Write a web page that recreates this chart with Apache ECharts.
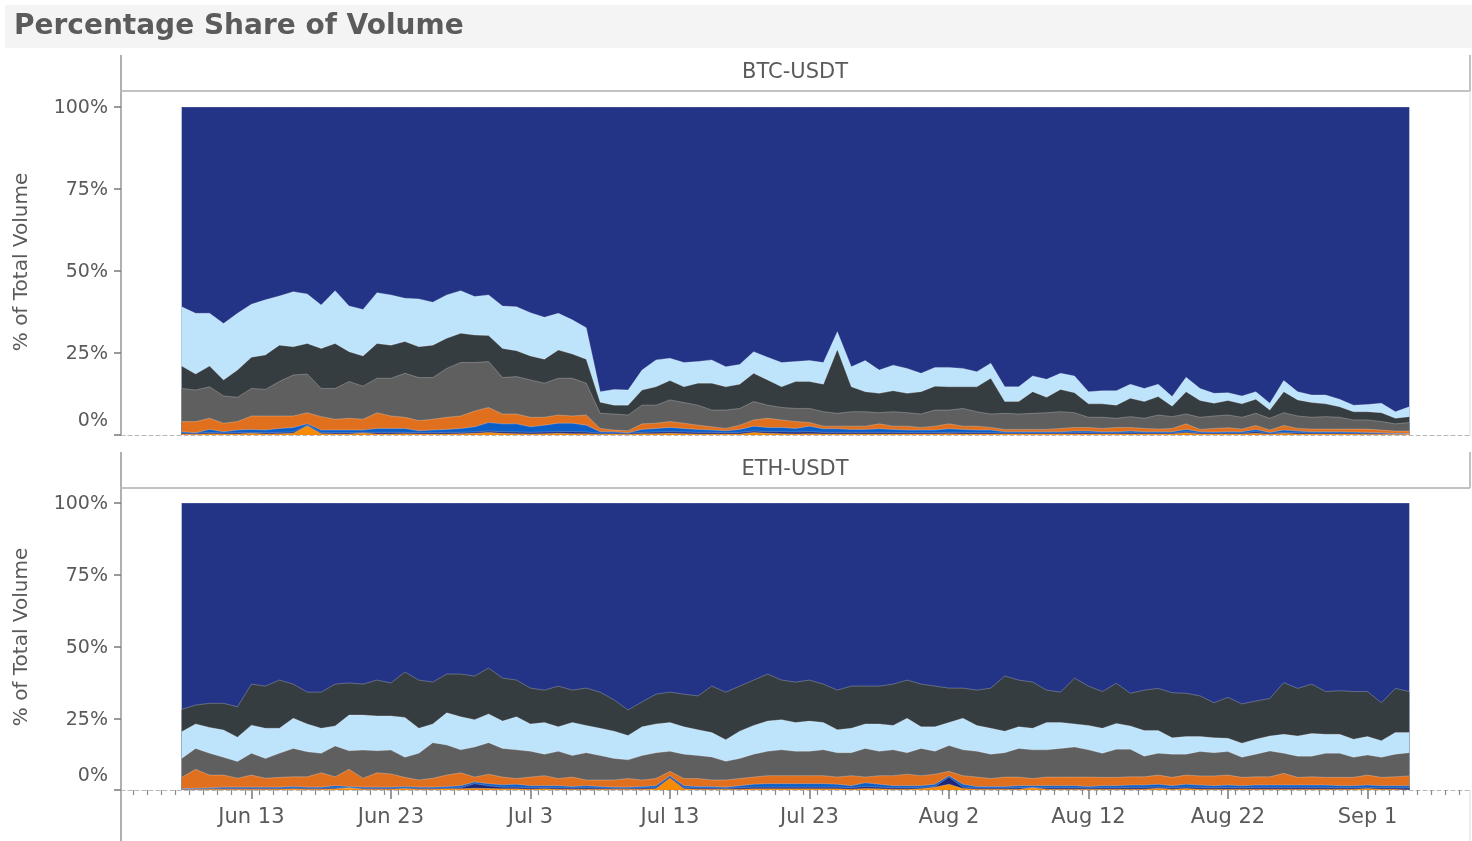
<!DOCTYPE html>
<html>
<head>
<meta charset="utf-8">
<script src="https://cdn.jsdelivr.net/npm/echarts@6/dist/echarts.min.js"></script>
<style>
html,body{margin:0;padding:0;background:#fff;}
#chart{width:1472px;height:841px;}
</style>
</head>
<body>
<div id="chart"></div>
<script>
// x positions: day offsets from Jun 8 (0) to Sep 4 (88)
const days = Array.from({length: 89}, (_, i) => i);
const tickDays = [5, 15, 25, 35, 45, 55, 65, 75, 85];
const tickLabels = ['Jun 13', 'Jun 23', 'Jul 3', 'Jul 13', 'Jul 23', 'Aug 2', 'Aug 12', 'Aug 22', 'Sep 1'];
const panelTitles = ['BTC-USDT', 'ETH-USDT'];

// cumulative share (%) at the top of each layer
const btcTotal = Array(89).fill(100);
const btcLightBlueTop = [39.1,37.1,37.1,34.0,37.1,39.9,41.2,42.4,43.7,43.0,
 39.6,44.0,39.3,38.3,43.4,42.7,41.7,41.5,40.5,42.7,
 44.0,42.2,42.7,39.3,39.1,37.3,35.9,37.1,35.1,32.7,
 13.2,13.9,13.7,19.8,22.9,23.4,22.1,22.4,22.9,20.8,
 21.5,25.4,23.7,22.1,22.4,22.7,22.1,31.5,20.8,22.7,
 19.8,21.3,20.3,18.8,20.6,20.6,20.3,19.3,21.9,14.7,
 14.7,18.0,17.0,18.8,18.0,13.2,13.5,13.5,15.5,14.2,
 15.5,11.7,17.6,14.2,12.7,12.9,11.9,13.2,9.7,16.6,
 13.2,12.2,12.2,10.9,9.1,9.3,9.7,7.1,8.6];
const btcCharcoalTop = [21.0,18.6,21.0,16.8,19.8,23.7,24.4,27.4,26.9,27.9,
 26.4,27.9,25.4,24.1,27.9,27.4,28.5,26.9,27.4,29.5,
 31.0,30.5,30.3,26.4,25.7,24.1,23.1,25.9,24.7,23.1,
 10.0,9.1,9.1,13.7,14.7,16.6,14.7,15.8,15.8,14.7,
 15.5,18.8,16.8,14.7,16.3,16.3,15.5,26.1,14.7,13.2,
 12.7,13.5,12.7,13.2,14.9,14.7,14.7,14.7,17.3,10.2,
 10.2,13.2,11.5,13.9,12.9,9.5,9.5,9.1,11.2,10.2,
 11.7,8.8,13.2,10.5,9.7,10.5,9.5,10.9,7.6,13.2,
 10.7,9.9,9.5,8.6,7.1,7.1,6.8,5.1,5.6];
const btcGrayTop = [14.2,13.7,14.7,11.9,11.5,14.2,13.9,16.3,18.3,18.6,
 14.2,14.2,16.3,14.9,17.3,17.3,18.8,17.5,17.5,20.3,
 22.1,22.1,22.4,17.5,17.8,16.8,15.8,17.3,17.3,15.8,
 6.6,6.4,6.1,9.1,9.1,10.7,9.9,9.1,7.6,7.6,
 8.1,10.2,9.1,8.4,8.1,8.1,7.1,6.6,7.1,7.1,
 6.8,7.1,6.8,6.4,7.6,7.6,8.1,7.1,6.4,6.6,
 6.4,6.6,6.8,7.1,6.8,5.4,5.4,5.1,5.6,5.1,
 6.1,5.6,6.4,5.4,5.8,6.1,5.4,6.6,5.1,6.8,
 5.8,5.4,5.6,5.4,4.6,4.6,4.1,3.4,3.8];
const btcOrangeTop = [4.1,4.1,5.1,3.6,4.1,5.8,5.8,5.8,5.8,6.8,
 5.6,4.8,5.1,4.8,6.8,5.8,5.4,4.4,4.8,5.4,
 5.8,7.3,8.4,6.4,6.4,5.4,5.4,6.1,5.8,6.1,
 2.0,1.5,1.3,3.4,3.6,4.1,3.6,3.0,2.5,2.0,
 3.0,4.6,5.1,4.6,4.1,3.8,2.7,2.7,2.7,2.7,
 3.4,2.7,2.7,2.3,2.7,3.4,2.7,2.7,2.3,1.7,
 1.7,1.7,1.7,2.0,2.3,2.3,2.0,2.3,2.3,2.0,
 1.8,2.0,3.4,1.7,2.0,2.2,1.8,2.9,1.5,2.9,
 2.0,1.8,1.8,1.8,1.8,1.8,1.5,1.2,1.2];
const btcBlueTop = [1.0,0.7,1.7,1.0,1.5,1.7,1.5,2.0,2.3,3.4,
 1.5,1.5,1.5,1.5,2.0,2.0,2.0,1.3,1.5,1.7,
 2.0,2.5,3.8,3.4,3.4,2.5,3.0,3.6,3.6,3.0,
 1.0,1.0,0.7,1.7,2.0,2.3,2.0,1.7,1.5,1.3,
 1.7,2.7,2.3,2.3,2.0,2.7,1.9,1.9,1.7,1.7,
 1.9,1.7,1.5,1.5,1.5,1.9,1.7,1.5,1.5,1.0,
 1.0,1.0,1.0,1.0,1.2,1.2,1.0,1.0,1.2,1.0,
 1.0,1.0,1.7,1.0,0.9,1.0,1.0,1.7,0.8,1.5,
 1.2,1.0,1.0,1.0,0.9,0.8,0.7,0.5,0.5];
const btcDarkNavyTop = [0.6,0.5,0.8,0.6,0.7,0.8,0.7,0.8,0.9,3.0,
 0.7,0.7,0.7,0.8,0.8,0.8,0.8,0.7,0.7,0.8,
 0.8,0.9,1.2,1.0,0.9,0.8,0.9,1.0,1.0,0.9,
 0.5,0.6,0.5,0.8,0.9,1.0,0.9,0.8,0.8,0.7,
 0.8,1.2,1.0,1.0,0.9,1.0,0.8,0.8,0.8,0.8,
 0.8,0.8,0.7,0.7,0.7,0.8,0.8,0.7,0.7,0.6,
 0.6,0.6,0.6,0.6,0.7,0.7,0.6,0.6,0.7,0.6,
 0.6,0.6,1.0,0.6,0.6,0.6,0.6,1.0,0.5,0.8,
 0.7,0.6,0.6,0.6,0.6,0.5,0.5,0.4,0.4];
const btcAmberTop = [0.3,0.2,0.4,0.3,0.3,0.5,0.3,0.4,0.5,2.8,
 0.4,0.3,0.3,0.6,0.3,0.3,0.4,0.3,0.3,0.3,
 0.4,0.5,0.8,0.5,0.4,0.3,0.4,0.5,0.4,0.4,
 0.2,0.3,0.2,0.4,0.4,0.5,0.4,0.3,0.3,0.3,
 0.3,0.8,0.5,0.4,0.3,0.4,0.3,0.3,0.3,0.3,
 0.3,0.3,0.3,0.3,0.3,0.4,0.3,0.3,0.3,0.3,
 0.3,0.3,0.3,0.3,0.3,0.3,0.3,0.3,0.3,0.3,
 0.3,0.3,0.7,0.3,0.3,0.3,0.3,0.5,0.2,0.5,
 0.3,0.3,0.3,0.3,0.3,0.2,0.2,0.2,0.2];

const ethTotal = Array(89).fill(100);
const ethCharcoalTop = [28.1,29.6,30.2,30.2,29.0,36.9,36.2,38.3,36.9,34.1,
 34.1,36.9,37.3,36.9,38.3,37.3,41.1,38.3,37.6,40.4,
 40.4,39.7,42.5,39.0,38.3,35.5,34.8,36.2,34.8,35.5,
 34.1,31.4,27.9,30.7,33.4,34.1,33.4,32.8,36.2,34.1,
 36.2,38.3,40.4,38.3,37.6,38.3,36.9,34.8,36.2,36.2,
 36.2,36.9,38.3,36.9,36.2,35.5,35.5,34.8,35.5,39.7,
 38.3,37.6,34.8,34.1,39.0,36.2,34.3,37.2,33.7,34.8,
 35.4,33.9,33.7,32.8,30.4,32.3,30.0,31.0,31.9,37.4,
 35.4,36.9,34.3,34.6,34.3,34.3,30.4,35.4,34.3];
const ethLightBlueTop = [20.3,23.0,21.8,20.9,18.4,22.6,21.5,21.5,25.0,23.0,
 21.5,22.3,26.1,26.1,25.8,25.8,25.3,21.5,23.0,26.9,
 25.5,24.5,26.5,24.0,25.5,23.0,23.5,22.0,23.5,22.5,
 21.5,20.5,19.0,22.0,23.0,23.5,22.0,21.0,20.0,17.5,
 20.5,22.5,24.0,24.5,23.5,24.0,23.5,21.0,21.5,23.0,
 23.0,22.5,25.0,22.0,22.0,23.5,25.0,22.5,21.5,20.5,
 22.0,21.5,23.5,23.5,23.0,22.5,21.5,23.2,22.3,20.7,
 20.7,18.2,18.6,18.6,18.2,18.0,16.3,17.7,18.8,19.4,
 18.8,19.7,19.4,19.4,17.7,18.6,17.2,20.0,20.0];
const ethGrayTop = [11.0,14.5,12.8,11.4,9.9,12.8,11.0,12.8,14.5,13.3,
 12.8,15.3,13.7,13.9,13.7,13.9,11.4,12.8,16.5,15.7,
 14.0,15.0,16.5,14.5,14.0,13.5,12.5,13.5,12.0,13.0,
 12.0,11.0,10.5,12.0,13.0,13.5,12.5,12.0,11.5,10.0,
 11.0,12.5,13.5,14.0,13.5,13.5,14.0,13.0,13.0,14.5,
 13.5,14.0,13.0,14.5,13.5,15.5,14.0,13.5,12.5,13.0,
 14.5,14.0,14.0,14.5,15.0,14.0,12.8,14.2,14.2,11.8,
 12.8,12.5,12.5,13.4,13.0,13.4,11.4,12.5,13.6,12.8,
 11.8,11.8,12.8,12.8,11.4,12.2,11.4,12.5,13.0];
const ethOrangeTop = [4.4,7.2,5.2,5.2,4.1,5.2,4.1,4.4,4.6,4.6,
 6.0,4.6,7.2,4.1,6.0,5.6,4.4,3.5,4.1,5.2,
 6.0,4.5,5.5,4.5,4.0,4.5,5.0,4.0,4.5,3.5,
 3.5,3.5,4.0,3.5,4.0,6.5,4.0,4.0,3.5,3.5,
 4.0,4.5,5.0,5.0,5.0,5.0,5.0,4.5,5.0,4.5,
 5.0,5.0,5.5,5.0,5.5,6.5,5.0,4.5,4.0,4.5,
 4.5,4.0,4.5,4.5,4.5,4.5,4.4,4.4,4.6,4.6,
 5.2,4.4,5.2,4.9,4.9,5.2,4.4,4.6,4.6,5.8,
 4.4,4.6,4.4,4.4,4.4,5.2,4.4,4.6,4.9];
const ethBlueTop = [0.5,0.6,0.8,1.0,1.0,1.0,1.0,1.0,1.2,1.0,
 1.0,1.5,1.2,1.0,1.0,1.0,1.2,1.0,1.0,1.2,
 1.5,2.8,2.2,1.8,2.0,1.5,1.5,1.5,1.2,1.5,
 1.2,1.0,1.0,1.2,1.5,5.0,1.5,1.2,1.2,1.0,
 1.5,2.0,2.2,2.2,2.2,2.2,2.2,2.0,1.5,2.5,
 2.0,1.5,1.5,1.5,2.0,5.0,2.0,1.2,1.2,1.2,
 1.5,1.5,1.5,1.5,1.5,1.2,1.5,1.5,1.7,1.7,
 2.0,1.5,2.0,1.7,1.5,1.7,1.5,1.7,1.7,1.7,
 1.7,1.7,1.7,1.5,1.5,1.7,1.5,1.5,1.5];
const ethDarkNavyTop = [0.3,0.4,0.5,0.6,0.6,0.6,0.6,0.6,0.7,0.6,
 0.6,0.8,0.7,0.6,0.6,0.6,0.7,0.6,0.6,0.7,
 0.8,2.2,1.5,1.0,1.0,0.8,0.8,0.8,0.7,0.8,
 0.7,0.6,0.6,0.7,0.8,4.6,0.8,0.7,0.7,0.6,
 0.8,1.0,1.0,1.0,1.0,1.0,1.0,1.0,0.8,1.2,
 1.0,0.8,0.8,0.8,1.2,4.5,1.0,0.7,0.7,0.7,
 0.8,0.8,0.8,0.8,0.8,0.7,0.8,0.8,0.9,0.9,
 1.0,0.8,1.0,0.9,0.8,0.9,0.8,0.9,0.9,0.9,
 0.9,0.9,0.9,0.8,0.8,0.9,0.8,0.8,0.8];
const ethAmberTop = [0.1,0.2,0.3,0.3,0.3,0.3,0.3,0.3,0.4,0.3,
 0.3,0.4,0.8,0.3,0.3,0.3,0.5,0.3,0.3,0.4,
 0.4,0.6,0.5,0.4,0.4,0.3,0.4,0.3,0.3,0.3,
 0.3,0.3,0.3,0.3,0.4,4.2,0.4,0.3,0.3,0.3,
 0.3,0.4,0.4,0.4,0.4,0.4,0.4,0.4,0.3,0.5,
 0.4,0.3,0.3,0.4,1.0,2.0,0.5,0.3,0.3,0.3,
 0.3,0.8,0.3,0.3,0.3,0.3,0.3,0.3,0.3,0.3,
 0.6,0.3,0.5,0.3,0.3,0.3,0.3,0.3,0.3,0.3,
 0.3,0.3,0.3,0.3,0.3,0.5,0.3,0.3,0.3];

const COLORS = {
  navy: '#233487', lightblue: '#bee4fc', charcoal: '#363d40', gray: '#5f5f60',
  orange: '#e1701e', blue: '#0a5ec8', darknavy: '#1e2878', amber: '#f68c06'
};
const FONT = 'DejaVu Sans';
const TXT = '#5a5a5a';

function pts(arr) { return arr.map((v, i) => [days[i], v]); }
function area(name, values, color, xi, yi) {
  return {
    name: name, type: 'line', xAxisIndex: xi, yAxisIndex: yi,
    data: pts(values), symbol: 'none', smooth: false, silent: true,
    lineStyle: { width: 1, color: 'rgba(255,255,255,0.25)' },
    areaStyle: { color: color, opacity: 1, origin: 'start' },
    animation: false
  };
}

const minorTicks = [];
for (let k = -4; k <= 91; k++) minorTicks.push(k + 0.55);

const xMin = -4.35, xMax = 92.35;

function yAxisCfg(gi) {
  return {
    type: 'value', gridIndex: gi, min: 0, max: 100, interval: 25, position: 'left',
    axisLine: { show: false, onZero: false },
    axisTick: { show: true, length: 7, lineStyle: { color: '#7a7a7a', width: 1.5 } },
    splitLine: { show: false },
    axisLabel: {
      margin: 13, color: TXT, fontFamily: FONT, fontSize: 19,
      formatter: function (v) { return v === 0 ? '{z|0%}' : '{n|' + v + '%}'; },
      rich: {
        z: { fontFamily: FONT, fontSize: 19, color: TXT, padding: [0, 0, 28, 0] },
        n: { fontFamily: FONT, fontSize: 19, color: TXT, padding: [3, 0, 0, 0] }
      }
    }
  };
}

const option = {
  backgroundColor: '#ffffff',
  animation: false,
  grid: [
    { left: 121, right: 2, top: 107, height: 328 },
    { left: 121, right: 2, top: 503, height: 287 }
  ],
  xAxis: [
    { type: 'value', gridIndex: 0, min: xMin, max: xMax, position: 'bottom',
      axisLine: { show: true, onZero: false, lineStyle: { color: '#b8b8b8', type: [4, 3], width: 1 } },
      axisTick: { show: false }, axisLabel: { show: false }, splitLine: { show: false } },
    { type: 'value', gridIndex: 1, min: xMin, max: xMax, position: 'bottom',
      axisLine: { show: true, onZero: false, lineStyle: { color: '#b8b8b8', type: [4, 3], width: 1 } },
      axisTick: { show: true, length: 9, customValues: tickDays, lineStyle: { color: '#7a7a7a', width: 1.5 } },
      axisLabel: { show: true, customValues: tickDays, margin: 17, color: TXT, fontFamily: FONT, fontSize: 21,
        formatter: function (v) { const i = tickDays.indexOf(Math.round(v)); return i >= 0 ? tickLabels[i] : ''; } },
      splitLine: { show: false } },
    { type: 'value', gridIndex: 1, min: xMin, max: xMax, position: 'bottom', offset: 0,
      axisLine: { show: false, onZero: false },
      axisTick: { show: true, length: 5, customValues: minorTicks, lineStyle: { color: '#8a8a8a', width: 1.2 } },
      axisLabel: { show: false }, splitLine: { show: false } }
  ],
  yAxis: [yAxisCfg(0), yAxisCfg(1)],
  series: [
    area('BTC total', btcTotal, COLORS.navy, 0, 0),
    area('BTC light blue', btcLightBlueTop, COLORS.lightblue, 0, 0),
    area('BTC charcoal', btcCharcoalTop, COLORS.charcoal, 0, 0),
    area('BTC gray', btcGrayTop, COLORS.gray, 0, 0),
    area('BTC orange', btcOrangeTop, COLORS.orange, 0, 0),
    area('BTC blue', btcBlueTop, COLORS.blue, 0, 0),
    area('BTC dark navy', btcDarkNavyTop, COLORS.darknavy, 0, 0),
    area('BTC amber', btcAmberTop, COLORS.amber, 0, 0),
    area('ETH total', ethTotal, COLORS.navy, 1, 1),
    area('ETH charcoal', ethCharcoalTop, COLORS.charcoal, 1, 1),
    area('ETH light blue', ethLightBlueTop, COLORS.lightblue, 1, 1),
    area('ETH gray', ethGrayTop, COLORS.gray, 1, 1),
    area('ETH orange', ethOrangeTop, COLORS.orange, 1, 1),
    area('ETH blue', ethBlueTop, COLORS.blue, 1, 1),
    area('ETH dark navy', ethDarkNavyTop, COLORS.darknavy, 1, 1),
    area('ETH amber', ethAmberTop, COLORS.amber, 1, 1)
  ],
  graphic: [
    { type: 'rect', shape: { x: 5, y: 5, width: 1467, height: 43 }, style: { fill: '#f4f4f4' }, silent: true },
    { type: 'text', x: 14, y: 27, style: { text: 'Percentage Share of Volume', fontFamily: FONT, fontWeight: 'bold', fontSize: 28, fill: '#5b5b5b', textVerticalAlign: 'middle' } },
    // top panel frame
    { type: 'line', shape: { x1: 121, y1: 55, x2: 121, y2: 436 }, style: { stroke: '#b0b0b0', lineWidth: 2 } },
    { type: 'line', shape: { x1: 121, y1: 91, x2: 1470, y2: 91 }, style: { stroke: '#c2c2c2', lineWidth: 2 } },
    { type: 'line', shape: { x1: 1470, y1: 55, x2: 1470, y2: 91 }, style: { stroke: '#c2c2c2', lineWidth: 2 } },
    { type: 'line', shape: { x1: 1470, y1: 91, x2: 1470, y2: 436 }, style: { stroke: '#dcdcdc', lineWidth: 1 } },
    { type: 'text', x: 795, y: 73, style: { text: panelTitles[0], fontFamily: FONT, fontSize: 21, fill: TXT, textAlign: 'center', textVerticalAlign: 'middle' } },
    // bottom panel frame
    { type: 'line', shape: { x1: 121, y1: 452, x2: 121, y2: 841 }, style: { stroke: '#b0b0b0', lineWidth: 2 } },
    { type: 'line', shape: { x1: 121, y1: 488, x2: 1470, y2: 488 }, style: { stroke: '#c2c2c2', lineWidth: 2 } },
    { type: 'line', shape: { x1: 1470, y1: 452, x2: 1470, y2: 488 }, style: { stroke: '#c2c2c2', lineWidth: 2 } },
    { type: 'line', shape: { x1: 1470, y1: 790, x2: 1470, y2: 841 }, style: { stroke: '#dcdcdc', lineWidth: 1 } },
    { type: 'text', x: 795, y: 470, style: { text: panelTitles[1], fontFamily: FONT, fontSize: 21, fill: TXT, textAlign: 'center', textVerticalAlign: 'middle' } },
    // y axis titles
    { type: 'text', x: 22, y: 262, rotation: Math.PI / 2, style: { text: '% of Total Volume', fontFamily: FONT, fontSize: 20, fill: TXT, textAlign: 'center', textVerticalAlign: 'middle' } },
    { type: 'text', x: 22, y: 637, rotation: Math.PI / 2, style: { text: '% of Total Volume', fontFamily: FONT, fontSize: 20, fill: TXT, textAlign: 'center', textVerticalAlign: 'middle' } }
  ]
};

const chart = echarts.init(document.getElementById('chart'), null, { renderer: 'canvas' });
chart.setOption(option);
</script>
</body>
</html>
